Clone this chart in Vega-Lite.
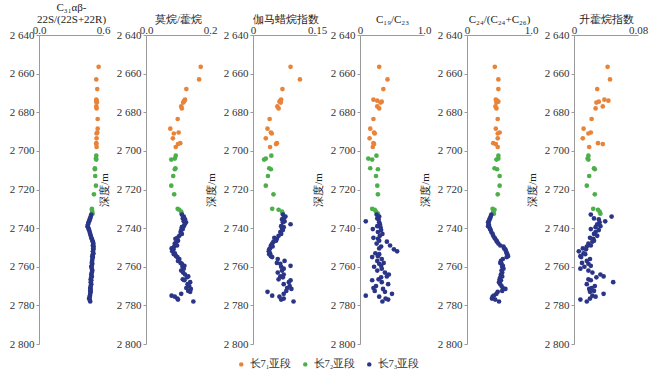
{
"$schema": "https://vega.github.io/schema/vega-lite/v6.json",
"background": "white",
"padding": {"left": 9, "right": 2, "top": 1, "bottom": 0},
"data": {"values": [
{"depth":2656.5,"seg":"长7₁亚段","a":0.559,"b":0.171,"c":0.088,"d":0.30,"e":0.435,"f":0.042},
{"depth":2663,"seg":"长7₁亚段","a":0.537,"b":0.166,"c":0.110,"d":0.43,"e":0.49,"f":0.045},
{"depth":2668,"seg":"长7₁亚段","a":0.546,"b":0.126,"c":0.069,"d":0.365,"e":0.49,"f":0.029},
{"depth":2673.5,"seg":"长7₁亚段","a":0.537,"b":0.122,"c":0.066,"d":0.21,"e":0.45,"f":0.038},
{"depth":2674,"seg":"长7₁亚段","a":0.540,"b":0.120,"c":0.064,"d":0.27,"e":0.47,"f":0.043},
{"depth":2674.5,"seg":"长7₁亚段","a":0.537,"b":0.118,"c":0.062,"d":0.34,"e":0.49,"f":0.031},
{"depth":2675,"seg":"长7₁亚段","a":0.543,"b":0.116,"c":0.065,"d":0.32,"e":0.46,"f":0.028},
{"depth":2677,"seg":"长7₁亚段","a":0.537,"b":0.110,"c":0.057,"d":0.27,"e":0.445,"f":0.036},
{"depth":2678,"seg":"长7₁亚段","a":0.540,"b":0.112,"c":0.060,"d":0.30,"e":0.46,"f":0.027},
{"depth":2683.5,"seg":"长7₁亚段","a":0.550,"b":0.099,"c":0.039,"d":0.21,"e":0.48,"f":0.022},
{"depth":2688.5,"seg":"长7₁亚段","a":0.550,"b":0.076,"c":0.034,"d":0.16,"e":0.45,"f":0.012},
{"depth":2690.5,"seg":"长7₁亚段","a":0.546,"b":0.102,"c":0.042,"d":0.22,"e":0.51,"f":0.021},
{"depth":2691,"seg":"长7₁亚段","a":0.540,"b":0.087,"c":0.044,"d":0.23,"e":0.48,"f":0.018},
{"depth":2693.5,"seg":"长7₁亚段","a":0.540,"b":0.084,"c":0.030,"d":0.15,"e":0.48,"f":0.011},
{"depth":2696,"seg":"长7₁亚段","a":0.537,"b":0.107,"c":0.056,"d":0.21,"e":0.41,"f":0.030},
{"depth":2696.5,"seg":"长7₁亚段","a":0.537,"b":0.100,"c":0.054,"d":0.22,"e":0.45,"f":0.036},
{"depth":2698,"seg":"长7₁亚段","a":0.540,"b":0.093,"c":0.040,"d":0.20,"e":0.48,"f":0.019},
{"depth":2702.5,"seg":"长7₂亚段","a":0.537,"b":0.093,"c":0.043,"d":0.257,"e":0.49,"f":0.018},
{"depth":2704,"seg":"长7₂亚段","a":0.534,"b":0.090,"c":0.030,"d":0.13,"e":0.49,"f":0.017},
{"depth":2704.5,"seg":"长7₂亚段","a":0.537,"b":0.079,"c":0.026,"d":0.19,"e":0.46,"f":0.018},
{"depth":2709,"seg":"长7₂亚段","a":0.524,"b":0.092,"c":0.038,"d":0.16,"e":0.43,"f":0.025},
{"depth":2709.5,"seg":"长7₂亚段","a":0.524,"b":0.090,"c":0.042,"d":0.28,"e":0.47,"f":0.026},
{"depth":2713,"seg":"长7₂亚段","a":0.527,"b":0.085,"c":0.035,"d":0.25,"e":0.51,"f":0.019},
{"depth":2718,"seg":"长7₂亚段","a":0.534,"b":0.079,"c":0.030,"d":0.27,"e":0.51,"f":0.016},
{"depth":2722.5,"seg":"长7₂亚段","a":0.515,"b":0.088,"c":0.048,"d":0.28,"e":0.48,"f":0.026},
{"depth":2730,"seg":"长7₂亚段","a":0.496,"b":0.099,"c":0.045,"d":0.19,"e":0.40,"f":0.024},
{"depth":2730.5,"seg":"长7₂亚段","a":0.496,"b":0.104,"c":0.060,"d":0.23,"e":0.43,"f":0.030},
{"depth":2731.5,"seg":"长7₂亚段","a":0.499,"b":0.110,"c":0.068,"d":0.25,"e":0.41,"f":0.032},
{"depth":2732.5,"seg":"长7₂亚段","a":0.502,"b":0.112,"c":0.070,"d":0.28,"e":0.42,"f":0.033},
{"depth":2733,"seg":"长7₃亚段","a":0.49,"b":0.112,"c":0.070,"d":0.26,"e":0.38,"f":0.021},
{"depth":2734,"seg":"长7₃亚段","a":0.485,"b":0.118,"c":0.076,"d":0.30,"e":0.37,"f":0.047},
{"depth":2735,"seg":"长7₃亚段","a":0.48,"b":0.115,"c":0.072,"d":0.27,"e":0.36,"f":0.025},
{"depth":2735.5,"seg":"长7₃亚段","a":0.475,"b":0.122,"c":0.068,"d":0.29,"e":0.35,"f":0.031},
{"depth":2736.5,"seg":"长7₃亚段","a":0.47,"b":0.118,"c":0.074,"d":0.09,"e":0.34,"f":0.039},
{"depth":2737,"seg":"长7₃亚段","a":0.465,"b":0.125,"c":0.070,"d":0.30,"e":0.33,"f":0.032},
{"depth":2738,"seg":"长7₃亚段","a":0.46,"b":0.121,"c":0.088,"d":0.31,"e":0.34,"f":0.029},
{"depth":2739,"seg":"长7₃亚段","a":0.455,"b":0.118,"c":0.066,"d":0.27,"e":0.33,"f":0.033},
{"depth":2739.5,"seg":"长7₃亚段","a":0.46,"b":0.112,"c":0.072,"d":0.32,"e":0.35,"f":0.027},
{"depth":2740.5,"seg":"长7₃亚段","a":0.465,"b":0.115,"c":0.068,"d":0.20,"e":0.36,"f":0.021},
{"depth":2741,"seg":"长7₃亚段","a":0.47,"b":0.110,"c":0.070,"d":0.33,"e":0.37,"f":0.031},
{"depth":2742,"seg":"长7₃亚段","a":0.475,"b":0.108,"c":0.064,"d":0.28,"e":0.38,"f":0.027},
{"depth":2743,"seg":"长7₃亚段","a":0.48,"b":0.112,"c":0.066,"d":0.35,"e":0.40,"f":0.025},
{"depth":2744,"seg":"长7₃亚段","a":0.485,"b":0.104,"c":0.060,"d":0.31,"e":0.41,"f":0.029},
{"depth":2745,"seg":"长7₃亚段","a":0.49,"b":0.098,"c":0.050,"d":0.21,"e":0.43,"f":0.020},
{"depth":2745.5,"seg":"长7₃亚段","a":0.495,"b":0.092,"c":0.056,"d":0.28,"e":0.44,"f":0.024},
{"depth":2746.5,"seg":"长7₃亚段","a":0.50,"b":0.100,"c":0.054,"d":0.30,"e":0.46,"f":0.025},
{"depth":2747,"seg":"长7₃亚段","a":0.505,"b":0.095,"c":0.048,"d":0.42,"e":0.47,"f":0.023},
{"depth":2748,"seg":"长7₃亚段","a":0.51,"b":0.090,"c":0.045,"d":0.26,"e":0.49,"f":0.018},
{"depth":2749,"seg":"长7₃亚段","a":0.505,"b":0.097,"c":0.042,"d":0.47,"e":0.52,"f":0.021},
{"depth":2749.5,"seg":"长7₃亚段","a":0.512,"b":0.088,"c":0.046,"d":0.33,"e":0.57,"f":0.016},
{"depth":2750.5,"seg":"长7₃亚段","a":0.508,"b":0.080,"c":0.040,"d":0.30,"e":0.58,"f":0.011},
{"depth":2751,"seg":"长7₃亚段","a":0.51,"b":0.086,"c":0.038,"d":0.53,"e":0.60,"f":0.015},
{"depth":2752,"seg":"长7₃亚段","a":0.505,"b":0.082,"c":0.037,"d":0.58,"e":0.61,"f":0.006},
{"depth":2753,"seg":"长7₃亚段","a":0.51,"b":0.090,"c":0.040,"d":0.24,"e":0.62,"f":0.012},
{"depth":2753.5,"seg":"长7₃亚段","a":0.505,"b":0.087,"c":0.038,"d":0.30,"e":0.63,"f":0.014},
{"depth":2754.5,"seg":"长7₃亚段","a":0.50,"b":0.094,"c":0.042,"d":0.28,"e":0.64,"f":0.008},
{"depth":2755,"seg":"长7₃亚段","a":0.505,"b":0.098,"c":0.045,"d":0.19,"e":0.62,"f":0.009},
{"depth":2756,"seg":"长7₃亚段","a":0.50,"b":0.104,"c":0.058,"d":0.34,"e":0.56,"f":0.020},
{"depth":2757,"seg":"长7₃亚段","a":0.498,"b":0.100,"c":0.074,"d":0.27,"e":0.53,"f":0.016},
{"depth":2758,"seg":"长7₃亚段","a":0.495,"b":0.108,"c":0.056,"d":0.37,"e":0.52,"f":0.010},
{"depth":2758.5,"seg":"长7₃亚段","a":0.50,"b":0.112,"c":0.064,"d":0.30,"e":0.54,"f":0.018},
{"depth":2759.5,"seg":"长7₃亚段","a":0.495,"b":0.120,"c":0.088,"d":0.33,"e":0.56,"f":0.021},
{"depth":2760,"seg":"长7₃亚段","a":0.49,"b":0.114,"c":0.066,"d":0.22,"e":0.55,"f":0.013},
{"depth":2761,"seg":"长7₃亚段","a":0.495,"b":0.118,"c":0.072,"d":0.34,"e":0.57,"f":0.008},
{"depth":2762,"seg":"长7₃亚段","a":0.50,"b":0.110,"c":0.068,"d":0.27,"e":0.54,"f":0.018},
{"depth":2763,"seg":"长7₃亚段","a":0.495,"b":0.116,"c":0.058,"d":0.39,"e":0.55,"f":0.023},
{"depth":2764,"seg":"长7₃亚段","a":0.49,"b":0.122,"c":0.072,"d":0.45,"e":0.53,"f":0.033},
{"depth":2765,"seg":"长7₃亚段","a":0.495,"b":0.132,"c":0.064,"d":0.42,"e":0.55,"f":0.037},
{"depth":2765.5,"seg":"长7₃亚段","a":0.49,"b":0.128,"c":0.070,"d":0.33,"e":0.52,"f":0.028},
{"depth":2766.5,"seg":"长7₃亚段","a":0.485,"b":0.115,"c":0.060,"d":0.29,"e":0.51,"f":0.018},
{"depth":2767,"seg":"长7₃亚段","a":0.49,"b":0.120,"c":0.088,"d":0.19,"e":0.53,"f":0.021},
{"depth":2768,"seg":"长7₃亚段","a":0.485,"b":0.138,"c":0.084,"d":0.34,"e":0.50,"f":0.049},
{"depth":2769,"seg":"长7₃亚段","a":0.49,"b":0.130,"c":0.072,"d":0.44,"e":0.52,"f":0.016},
{"depth":2770,"seg":"长7₃亚段","a":0.485,"b":0.135,"c":0.086,"d":0.25,"e":0.54,"f":0.026},
{"depth":2771,"seg":"长7₃亚段","a":0.48,"b":0.126,"c":0.080,"d":0.21,"e":0.56,"f":0.022},
{"depth":2771.5,"seg":"长7₃亚段","a":0.485,"b":0.140,"c":0.090,"d":0.36,"e":0.60,"f":0.019},
{"depth":2772.5,"seg":"长7₃亚段","a":0.48,"b":0.132,"c":0.078,"d":0.23,"e":0.55,"f":0.025},
{"depth":2773,"seg":"长7₃亚段","a":0.485,"b":0.138,"c":0.034,"d":0.39,"e":0.48,"f":0.020},
{"depth":2774,"seg":"长7₃亚段","a":0.48,"b":0.110,"c":0.072,"d":0.50,"e":0.46,"f":0.037},
{"depth":2775,"seg":"长7₃亚段","a":0.478,"b":0.080,"c":0.045,"d":0.09,"e":0.42,"f":0.023},
{"depth":2775.5,"seg":"长7₃亚段","a":0.475,"b":0.090,"c":0.062,"d":0.30,"e":0.40,"f":0.027},
{"depth":2776.5,"seg":"长7₃亚段","a":0.47,"b":0.098,"c":0.072,"d":0.40,"e":0.39,"f":0.020},
{"depth":2777,"seg":"长7₃亚段","a":0.475,"b":0.100,"c":0.066,"d":0.44,"e":0.44,"f":0.008},
{"depth":2778,"seg":"长7₃亚段","a":0.48,"b":0.148,"c":0.095,"d":0.35,"e":0.50,"f":0.016}
]},
"spacing": 43,
"bounds": "flush",
"hconcat": [
{"width":64,"height":309,"mark":{"type":"circle","size":22,"opacity":1},
 "encoding":{
  "x":{"field":"a","type":"quantitative","scale":{"domain":[0,0.6],"nice":false,"zero":false},"axis":{"orient":"top","values":[0,0.6],"format":".1f","title":["C₃₁αβ-","22S/(22S+22R)"]}},
  "y":{"field":"depth","type":"quantitative","scale":{"domain":[2640,2800],"reverse":true,"nice":false,"zero":false},"axis":{"values":[2640,2660,2680,2700,2720,2740,2760,2780,2800],"labelExpr":"replace(format(datum.value, ','), ',', ' ')","title":null}},
  "color":{"field":"seg","type":"nominal","scale":{"domain":["长7₁亚段","长7₂亚段","长7₃亚段"],"range":["#E8833A","#4DAF4A","#2B3587"]},"legend":{"title":null}}}},
{"width":64,"height":309,"mark":{"type":"circle","size":22,"opacity":1},
 "encoding":{
  "x":{"field":"b","type":"quantitative","scale":{"domain":[0,0.2],"nice":false,"zero":false},"axis":{"orient":"top","values":[0,0.2],"format":".1f","title":"莫烷/藿烷"}},
  "y":{"field":"depth","type":"quantitative","scale":{"domain":[2640,2800],"reverse":true,"nice":false,"zero":false},"axis":{"values":[2640,2660,2680,2700,2720,2740,2760,2780,2800],"labelExpr":"replace(format(datum.value, ','), ',', ' ')","title":"深度/m"}},
  "color":{"field":"seg","type":"nominal","scale":{"domain":["长7₁亚段","长7₂亚段","长7₃亚段"],"range":["#E8833A","#4DAF4A","#2B3587"]},"legend":{"title":null}}}},
{"width":64,"height":309,"mark":{"type":"circle","size":22,"opacity":1},
 "encoding":{
  "x":{"field":"c","type":"quantitative","scale":{"domain":[0,0.15],"nice":false,"zero":false},"axis":{"orient":"top","values":[0,0.15],"format":".2~f","title":"伽马蜡烷指数"}},
  "y":{"field":"depth","type":"quantitative","scale":{"domain":[2640,2800],"reverse":true,"nice":false,"zero":false},"axis":{"values":[2640,2660,2680,2700,2720,2740,2760,2780,2800],"labelExpr":"replace(format(datum.value, ','), ',', ' ')","title":"深度/m"}},
  "color":{"field":"seg","type":"nominal","scale":{"domain":["长7₁亚段","长7₂亚段","长7₃亚段"],"range":["#E8833A","#4DAF4A","#2B3587"]},"legend":{"title":null}}}},
{"width":64,"height":309,"mark":{"type":"circle","size":22,"opacity":1},
 "encoding":{
  "x":{"field":"d","type":"quantitative","scale":{"domain":[0,1],"nice":false,"zero":false},"axis":{"orient":"top","values":[0,1],"labelExpr":"datum.value == 0 ? '0' : '1.0'","title":"C₁₉/C₂₃"}},
  "y":{"field":"depth","type":"quantitative","scale":{"domain":[2640,2800],"reverse":true,"nice":false,"zero":false},"axis":{"values":[2640,2660,2680,2700,2720,2740,2760,2780,2800],"labelExpr":"replace(format(datum.value, ','), ',', ' ')","title":"深度/m"}},
  "color":{"field":"seg","type":"nominal","scale":{"domain":["长7₁亚段","长7₂亚段","长7₃亚段"],"range":["#E8833A","#4DAF4A","#2B3587"]},"legend":{"title":null}}}},
{"width":64,"height":309,"mark":{"type":"circle","size":22,"opacity":1},
 "encoding":{
  "x":{"field":"e","type":"quantitative","scale":{"domain":[0,1],"nice":false,"zero":false},"axis":{"orient":"top","values":[0,1],"labelExpr":"datum.value == 0 ? '0' : '1.0'","title":"C₂₄/(C₂₄+C₂₆)"}},
  "y":{"field":"depth","type":"quantitative","scale":{"domain":[2640,2800],"reverse":true,"nice":false,"zero":false},"axis":{"values":[2640,2660,2680,2700,2720,2740,2760,2780,2800],"labelExpr":"replace(format(datum.value, ','), ',', ' ')","title":"深度/m"}},
  "color":{"field":"seg","type":"nominal","scale":{"domain":["长7₁亚段","长7₂亚段","长7₃亚段"],"range":["#E8833A","#4DAF4A","#2B3587"]},"legend":{"title":null}}}},
{"width":64,"height":309,"mark":{"type":"circle","size":22,"opacity":1},
 "encoding":{
  "x":{"field":"f","type":"quantitative","scale":{"domain":[0,0.08],"nice":false,"zero":false},"axis":{"orient":"top","values":[0,0.08],"format":".2~f","title":"升藿烷指数"}},
  "y":{"field":"depth","type":"quantitative","scale":{"domain":[2640,2800],"reverse":true,"nice":false,"zero":false},"axis":{"values":[2640,2660,2680,2700,2720,2740,2760,2780,2800],"labelExpr":"replace(format(datum.value, ','), ',', ' ')","title":"深度/m"}},
  "color":{"field":"seg","type":"nominal","scale":{"domain":["长7₁亚段","长7₂亚段","长7₃亚段"],"range":["#E8833A","#4DAF4A","#2B3587"]},"legend":{"title":null}}}}
],
"config": {
  "font": "Liberation Serif",
  "view": {"stroke": null},
  "axis": {"grid": false, "domainColor": "#9a9a9a", "tickColor": "#9a9a9a", "labelColor": "#333", "labelFontSize": 11, "labelFont": "Liberation Serif", "titleFont": "Liberation Serif", "titleFontSize": 11, "titleLineHeight": 12, "titleFontWeight": "normal", "titleColor": "#222"},
  "axisX": {"ticks": false, "labelPadding": 0, "titlePadding": 0, "labelFlush": false},
  "axisY": {"tickSize": 3, "labelPadding": 2, "titlePadding": 7},
  "legend": {"orient": "bottom", "direction": "horizontal", "symbolType": "circle", "symbolSize": 20, "labelFontSize": 10.5, "labelFont": "Liberation Serif", "labelColor": "#333", "columnPadding": 8, "labelOffset": 3, "offset": 10, "layout": {"bottom": {"anchor": "middle"}}}
}
}
